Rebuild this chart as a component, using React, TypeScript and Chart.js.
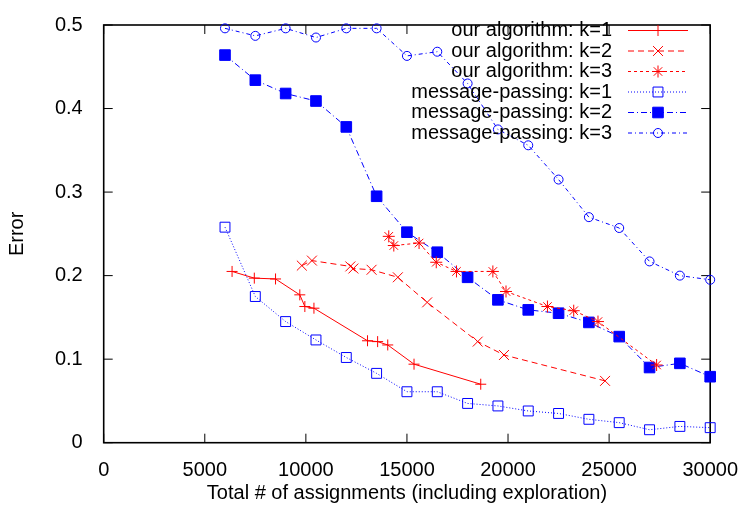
import React, { useEffect, useRef } from 'react';
import { Chart, registerables, PointElement } from 'chart.js';

Chart.register(...registerables);

// ---- Data ----
const xTicks = [0, 5000, 10000, 15000, 20000, 25000, 30000];
const yTicks = [0, 0.1, 0.2, 0.3, 0.4, 0.5];
const yTickLabels = ['0', '0.1', '0.2', '0.3', '0.4', '0.5'];

const xTitle = 'Total # of assignments (including exploration)';
const yTitle = 'Error';

const seriesLabels = [
  'our algorithm: k=1',
  'our algorithm: k=2',
  'our algorithm: k=3',
  'message-passing: k=1',
  'message-passing: k=2',
  'message-passing: k=3',
];

const ourK1X = [6350, 7450, 8500, 9700, 9950, 10400, 13050, 13550, 14050, 15350, 18650];
const ourK1Y = [0.205, 0.197, 0.196, 0.177, 0.163, 0.161, 0.122, 0.121, 0.117, 0.094, 0.07];

const ourK2X = [9800, 10300, 12200, 12350, 13250, 14550, 16000, 18500, 19800, 24800];
const ourK2Y = [0.212, 0.218, 0.211, 0.2085, 0.207, 0.198, 0.168, 0.121, 0.105, 0.074];

const ourK3X = [14100, 14350, 15600, 16450, 17450, 19250, 19900, 21950, 23250, 24450, 27350];
const ourK3Y = [0.247, 0.236, 0.239, 0.216, 0.205, 0.205, 0.181, 0.163, 0.158, 0.145, 0.093];

const mpX = [6000, 7500, 9000, 10500, 12000, 13500, 15000, 16500, 18000, 19500, 21000, 22500, 24000, 25500, 27000, 28500, 30000];
const mpK1Y = [0.258, 0.175, 0.145, 0.123, 0.102, 0.083, 0.061, 0.061, 0.047, 0.044, 0.038, 0.035, 0.028, 0.024, 0.0155, 0.0195, 0.018];
const mpK2Y = [0.464, 0.434, 0.418, 0.409, 0.378, 0.295, 0.252, 0.228, 0.198, 0.171, 0.159, 0.155, 0.144, 0.127, 0.09, 0.095, 0.079];
const mpK3Y = [0.496, 0.487, 0.496, 0.485, 0.496, 0.496, 0.463, 0.468, 0.43, 0.375, 0.356, 0.315, 0.27, 0.257, 0.217, 0.2, 0.195];

const RED = '#ff0000';
const BLUE = '#0000ff';

function pts(xs: number[], ys: number[]) {
  return xs.map((x, i) => ({ x, y: ys[i] }));
}

function mk(label: string, xs: number[], ys: number[], color: string, dash: number[], style: string, radius: number, filled: boolean) {
  return {
    label,
    data: pts(xs, ys),
    borderColor: color,
    backgroundColor: color,
    borderWidth: 1,
    borderDash: dash,
    pointStyle: style,
    pointRadius: radius,
    pointBorderWidth: 1,
    pointBorderColor: color,
    pointBackgroundColor: filled ? color : 'rgba(0,0,0,0)',
    tension: 0,
    fill: false,
    clip: false,
  };
}

export default function App() {
  const ref = useRef<HTMLCanvasElement>(null);

  useEffect(() => {
    if (!ref.current) return;
    const fontFamily = "'Liberation Sans', Arial, Helvetica, sans-serif";
    const font = { family: fontFamily, size: 20 };

    const frame = {
      id: 'gpFrame',
      beforeDatasetsDraw(chart: any) {
        const { ctx, chartArea: a, scales } = chart;
        const xs = scales.x;
        const ys = scales.y;
        const tl = 9;
        ctx.save();
        ctx.strokeStyle = '#000';
        ctx.lineWidth = 1;
        ctx.setLineDash([]);
        ctx.beginPath();
        xTicks.forEach((v) => {
          const px = xs.getPixelForValue(v);
          ctx.moveTo(px, a.bottom);
          ctx.lineTo(px, a.bottom - tl);
          ctx.moveTo(px, a.top);
          ctx.lineTo(px, a.top + tl);
        });
        yTicks.forEach((v) => {
          const py = ys.getPixelForValue(v);
          ctx.moveTo(a.left, py);
          ctx.lineTo(a.left + tl, py);
          ctx.moveTo(a.right, py);
          ctx.lineTo(a.right - tl, py);
        });
        ctx.stroke();
        ctx.lineWidth = 1.6;
        ctx.strokeRect(a.left, a.top, a.right - a.left, a.bottom - a.top);
        ctx.restore();
      },
    };

    const gpLegend = {
      id: 'gpLegend',
      afterDatasetsDraw(chart: any) {
        const { ctx } = chart;
        const textRight = 612;
        const lineL = 628;
        const lineR = 688;
        const y0 = 30.5;
        const dy = 20.5;
        ctx.save();
        chart.data.datasets.forEach((ds: any, i: number) => {
          const y = y0 + i * dy;
          ctx.font = `20px ${fontFamily}`;
          ctx.fillStyle = '#000';
          ctx.textAlign = 'right';
          ctx.textBaseline = 'middle';
          ctx.fillText(ds.label, textRight, y);
          ctx.strokeStyle = ds.borderColor;
          ctx.lineWidth = 1;
          ctx.setLineDash(ds.borderDash || []);
          ctx.beginPath();
          ctx.moveTo(lineL, y);
          ctx.lineTo(lineR, y);
          ctx.stroke();
          ctx.setLineDash([]);
          const meta = chart.getDatasetMeta(i);
          const opts = meta.data[0] && meta.data[0].options;
          if (opts) {
            const el: any = new PointElement({ x: (lineL + lineR) / 2, y, options: opts } as any);
            el.draw(ctx, { left: 0, top: 0, right: 746, bottom: 510 });
          }
        });
        ctx.restore();
      },
    };

    const chart = new Chart(ref.current, {
      type: 'line',
      data: {
        datasets: [
          mk(seriesLabels[0], ourK1X, ourK1Y, RED, [], 'cross', 5.5, false),
          mk(seriesLabels[1], ourK2X, ourK2Y, RED, [6, 4], 'crossRot', 7, false),
          mk(seriesLabels[2], ourK3X, ourK3Y, RED, [3, 3], 'star', 6, false),
          mk(seriesLabels[3], mpX, mpK1Y, BLUE, [1, 2], 'rect', 7, false),
          mk(seriesLabels[4], mpX, mpK2Y, BLUE, [6, 3, 1, 3], 'rect', 7.5, true),
          mk(seriesLabels[5], mpX, mpK3Y, BLUE, [4, 3, 1, 3], 'circle', 4.5, false),
        ] as any,
      },
      options: {
        responsive: false,
        animation: false,
        devicePixelRatio: 1,
        events: [],
        layout: { padding: { left: 0, top: 9.3, right: 33.3, bottom: 0 } },
        plugins: {
          legend: { display: false },
          tooltip: { enabled: false },
          title: { display: false },
        },
        scales: {
          x: {
            type: 'linear',
            min: 0,
            max: 30000,
            afterBuildTicks: (s: any) => {
              s.ticks = xTicks.map((v) => ({ value: v }));
            },
            afterFit: (s: any) => {
              s.height = 67.3;
            },
            grid: { display: false },
            border: { display: false },
            ticks: {
              font,
              color: '#000',
              padding: 8,
              maxRotation: 0,
              autoSkip: false,
              callback: (v: any) => String(v),
            },
            title: {
              display: true,
              text: xTitle,
              font,
              color: '#000',
              padding: { top: 0, bottom: 5 },
            },
          },
          y: {
            type: 'linear',
            min: 0,
            max: 0.5,
            afterBuildTicks: (s: any) => {
              s.ticks = yTicks.map((v) => ({ value: v }));
            },
            afterFit: (s: any) => {
              s.width = 103.7;
            },
            grid: { display: false },
            border: { display: false },
            ticks: {
              font,
              color: '#000',
              padding: 13,
              autoSkip: false,
              callback: (v: any) => {
                const i = yTicks.findIndex((t) => Math.abs(t - v) < 1e-9);
                return i >= 0 ? yTickLabels[i] : '';
              },
            },
            title: {
              display: true,
              text: yTitle,
              font,
              color: '#000',
              padding: { top: 5.5, bottom: 0 },
            },
          },
        },
      } as any,
      plugins: [frame, gpLegend],
    });

    return () => chart.destroy();
  }, []);

  return (
    <div style={{ position: 'absolute', left: 0, top: 0, width: 746, height: 510, background: '#fff' }}>
      <canvas ref={ref} width={746} height={510} style={{ display: 'block' }} />
    </div>
  );
}
